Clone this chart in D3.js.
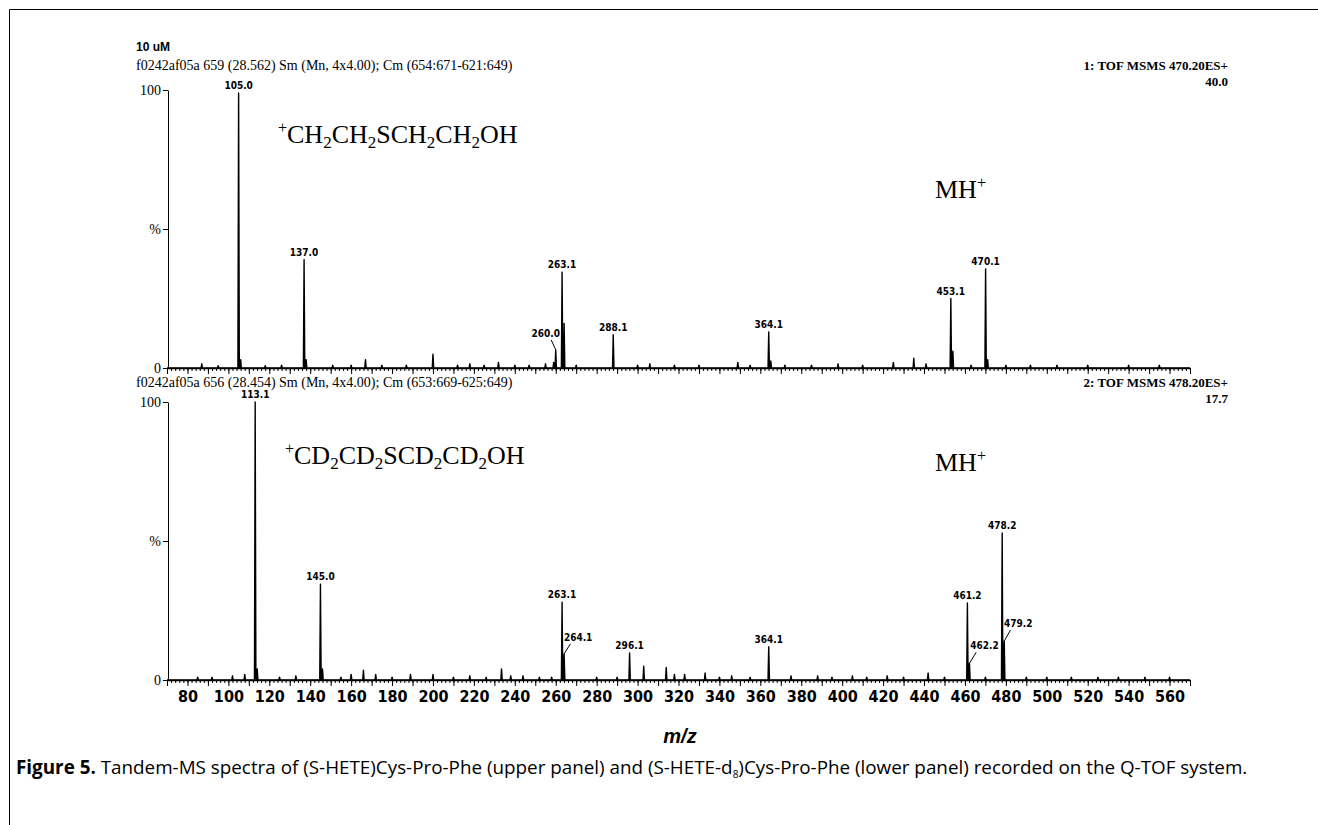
<!DOCTYPE html>
<html>
<head>
<meta charset="utf-8">
<script src="https://cdn.jsdelivr.net/npm/d3@7"></script>
<style>
  body { margin: 0; background: #fff; }
  svg { display: block; }
  .axis text { fill: #000; }
  .axis path, .axis line { stroke: #000; }
</style>
</head>
<body>
<svg id="chart" width="1318" height="825"></svg>
<script>
// m/z range and tick labels
const mzDomain = [70, 570]
const xTickLabels = d3.range(80, 561, 20)

// upper panel: (S-HETE)Cys-Pro-Phe, [m/z, % intensity]
const upperPeaks = [
  [105.0, 98.9], [106.0, 3], [137.0, 39], [138.0, 3], [260.0, 6.5], [263.1, 34.5],
  [264.1, 16], [288.1, 12], [364.1, 13], [365.1, 2.5], [453.1, 25], [454.1, 6],
  [470.1, 35.6], [471.1, 3]
]
const upperNoise = [
  [87, 1.5], [95, 0.8], [118, 0.8], [126, 1], [151, 1], [160, 1], [167, 3], [175, 1],
  [187, 1], [200, 5], [212, 1], [218, 1.5], [225, 1], [232, 2], [240, 1], [247, 1],
  [255, 1.5], [259, 2], [270, 1], [300, 1], [306, 1.5], [318, 1], [330, 1], [349, 2],
  [355, 1], [372, 1], [385, 1], [398, 1.5], [410, 1], [425, 2], [435, 3.5], [441, 1.5],
  [463, 1], [480, 1], [492, 1], [505, 1], [520, 1], [540, 1], [555, 1]
]
const upperLabeled = [105.0, 137.0, 260.0, 263.1, 288.1, 364.1, 453.1, 470.1]

// lower panel: (S-HETE-d8)Cys-Pro-Phe
const lowerPeaks = [
  [113.1, 100], [114.1, 4], [145.0, 34.5], [146.0, 4], [263.1, 28], [264.1, 9.4],
  [296.1, 9.7], [364.1, 12], [461.2, 27.7], [462.2, 6], [478.2, 52.9], [479.2, 14]
]
const lowerNoise = [
  [85, 1], [92, 1], [102, 1.5], [108, 2], [125, 1], [133, 1.5], [155, 1], [160, 2],
  [166, 3.5], [172, 2], [180, 1], [189, 2], [200, 2], [210, 1], [218, 1.5], [226, 1],
  [233.5, 4], [238, 1.5], [244, 1.5], [252, 1], [258, 1], [280, 1], [290, 1], [303, 5],
  [314, 4.5], [318, 2], [323, 2], [333, 2.5], [340, 1], [346, 1.5], [355, 1], [375, 1.5],
  [388, 1.5], [395, 1], [405, 1.5], [412, 1], [422, 1.5], [430, 1], [442, 2.5], [450, 1],
  [470, 1], [490, 1], [500, 1], [512, 1], [525, 1], [535, 1], [548, 1], [560, 1]
]
const lowerLabeled = [113.1, 145.0, 263.1, 264.1, 296.1, 364.1, 461.2, 462.2, 478.2, 479.2]

// labels that sit beside their peak with a leader line
const leaderOffsets = {
  '260.0': [-10, -13],
  '264.1': [14, -13],
  '462.2': [15, -14],
  '479.2': [14, -14]
}

const svg = d3.select('#chart')
const serif = 'Liberation Serif, Times New Roman, serif'
const narrow = 'Liberation Sans Narrow, DejaVu Sans Condensed, sans-serif'

const x = d3.scaleLinear().domain(mzDomain).range([167, 1190])

// figure frame (top and left edge visible)
svg.append('path')
  .attr('d', 'M9.5,825V9.5H1318')
  .attr('fill', 'none')
  .attr('stroke', '#000')
  .attr('stroke-width', 1)

svg.append('text')
  .attr('x', 136).attr('y', 51)
  .attr('font-family', 'Liberation Sans, Arial, sans-serif')
  .attr('font-weight', 'bold')
  .attr('font-size', 12)
  .text('10 uM')

function drawPanel (cfg) {
  const y = d3.scaleLinear().domain([0, 100]).range([cfg.bottom, cfg.top])
  const g = svg.append('g')

  // header lines
  g.append('text')
    .attr('x', 136).attr('y', cfg.headerY)
    .attr('font-family', serif).attr('font-size', 14)
    .text(cfg.header)
  g.append('text')
    .attr('x', 1228).attr('y', cfg.headerY)
    .attr('text-anchor', 'end')
    .attr('font-family', serif).attr('font-weight', 'bold').attr('font-size', 13)
    .text(cfg.scan)
  g.append('text')
    .attr('x', 1228).attr('y', cfg.headerY + 16)
    .attr('text-anchor', 'end')
    .attr('font-family', serif).attr('font-weight', 'bold').attr('font-size', 13)
    .text(cfg.scale)

  // spectrum profile
  const all = cfg.peaks.concat(cfg.noise).sort((a, b) => a[0] - b[0])
  const pts = [[mzDomain[0], 0]]
  all.forEach(([mz, h]) => {
    pts.push([mz - 0.35, 0], [mz, h], [mz + 0.35, 0])
  })
  pts.push([mzDomain[1], 0])
  g.append('path')
    .datum(pts)
    .attr('fill', 'none')
    .attr('stroke', '#000')
    .attr('stroke-width', 1.4)
    .attr('stroke-linejoin', 'round')
    .attr('d', d3.line().x(d => x(d[0])).y(d => y(d[1])))

  // x axis: minor / major ticks
  const minor = g.append('g').attr('class', 'axis')
    .attr('transform', `translate(0,${cfg.bottom})`)
    .call(d3.axisBottom(x).tickValues(d3.range(70, 571, 2)).tickSize(3).tickSizeOuter(0).tickFormat(''))
  minor.select('.domain').attr('stroke-width', 1.6)
  g.append('g').attr('class', 'axis')
    .attr('transform', `translate(0,${cfg.bottom})`)
    .call(d3.axisBottom(x).tickValues(d3.range(70, 571, 10)).tickSize(6).tickSizeOuter(0).tickFormat(''))
    .select('.domain').remove()

  if (cfg.showLabels) {
    g.append('g').attr('class', 'axis')
      .attr('transform', `translate(0,${cfg.bottom})`)
      .call(d3.axisBottom(x).tickValues(xTickLabels).tickSize(0).tickPadding(11))
      .call(s => s.select('.domain').remove())
      .selectAll('text')
      .attr('font-family', narrow).attr('font-weight', 'bold').attr('font-size', 16)
  }

  // y axis
  const yAxis = g.append('g').attr('class', 'axis')
    .attr('transform', `translate(${x(mzDomain[0]) + 1},0)`)
    .call(d3.axisLeft(y).tickValues([0, 50, 100]).tickSize(5).tickSizeOuter(0).tickPadding(2)
      .tickFormat(d => d === 50 ? '%' : d))
  yAxis.selectAll('text').attr('font-family', serif).attr('font-size', 14)

  // peak labels
  const peakMap = new Map(cfg.peaks.map(p => [p[0], p[1]]))
  cfg.labeled.forEach(mz => {
    const key = mz.toFixed(1)
    const px = x(mz)
    const py = y(peakMap.get(mz))
    const off = leaderOffsets[key]
    let tx = px
    let ty = py - 4
    if (off) {
      tx = px + off[0]
      ty = py + off[1]
      g.append('line')
        .attr('x1', px + off[0] * 0.45).attr('y1', ty + 3)
        .attr('x2', px).attr('y2', py)
        .attr('stroke', '#000').attr('stroke-width', 1)
    }
    g.append('text')
      .attr('x', tx).attr('y', ty)
      .attr('text-anchor', 'middle')
      .attr('font-family', narrow).attr('font-weight', 'bold').attr('font-size', 10)
      .text(key)
  })

  // ion annotations
  const formula = g.append('text')
    .attr('x', cfg.formulaPos[0]).attr('y', cfg.formulaPos[1])
    .attr('font-family', serif).attr('font-size', 26)
  cfg.formula.forEach(([t, kind]) => {
    const ts = formula.append('tspan').text(t)
    if (kind === 'sup') ts.attr('font-size', 16).attr('dy', -10)
    else if (kind === 'sub') ts.attr('font-size', 17).attr('dy', 5)
    else if (kind === 'afterSup') ts.attr('dy', 10)
    else if (kind === 'afterSub') ts.attr('dy', -5)
  })
  const mh = g.append('text')
    .attr('x', cfg.mhPos[0]).attr('y', cfg.mhPos[1])
    .attr('font-family', serif).attr('font-size', 26)
  mh.append('tspan').text('MH')
  mh.append('tspan').text('+').attr('font-size', 16).attr('dy', -10)
}

function chain (atoms) {
  // atoms: list of [letters, subscript]
  const parts = [['+', 'sup']]
  let prev = 'sup'
  atoms.forEach(([t, sub]) => {
    parts.push([t, prev === 'sup' ? 'afterSup' : prev === 'sub' ? 'afterSub' : ''])
    prev = ''
    if (sub) {
      parts.push([sub, 'sub'])
      prev = 'sub'
    }
  })
  return parts
}

drawPanel({
  top: 90,
  bottom: 368,
  headerY: 70,
  header: 'f0242af05a  659 (28.562) Sm (Mn, 4x4.00); Cm (654:671-621:649)',
  scan: '1: TOF MSMS 470.20ES+',
  scale: '40.0',
  peaks: upperPeaks,
  noise: upperNoise,
  labeled: upperLabeled,
  showLabels: false,
  formula: chain([['CH', '2'], ['CH', '2'], ['SCH', '2'], ['CH', '2'], ['OH', '']]),
  formulaPos: [278, 143],
  mhPos: [935, 198]
})

drawPanel({
  top: 402,
  bottom: 680,
  headerY: 387,
  header: 'f0242af05a  656 (28.454) Sm (Mn, 4x4.00); Cm (653:669-625:649)',
  scan: '2: TOF MSMS 478.20ES+',
  scale: '17.7',
  peaks: lowerPeaks,
  noise: lowerNoise,
  labeled: lowerLabeled,
  showLabels: true,
  formula: chain([['CD', '2'], ['CD', '2'], ['SCD', '2'], ['CD', '2'], ['OH', '']]),
  formulaPos: [285, 464],
  mhPos: [935, 471]
})

// x axis title
svg.append('text')
  .attr('x', 680).attr('y', 743)
  .attr('text-anchor', 'middle')
  .attr('font-family', 'Liberation Sans, Arial, sans-serif')
  .attr('font-weight', 'bold').attr('font-style', 'italic').attr('font-size', 20)
  .text('m/z')

// caption
const caption = svg.append('text')
  .attr('x', 16).attr('y', 774)
  .attr('font-family', 'Open Sans, sans-serif').attr('font-size', 15)
caption.append('tspan').attr('font-weight', 'bold').text('Figure 5.')
caption.append('tspan').text(' Tandem-MS spectra of (S-HETE)Cys-Pro-Phe (upper panel) and (S-HETE-d')
caption.append('tspan').attr('font-size', 10).attr('dy', 4).text('8')
caption.append('tspan').attr('dy', -4).text(')Cys-Pro-Phe (lower panel) recorded on the Q-TOF system.')
const capW = caption.node().getComputedTextLength()
caption.attr('font-size', 15 * 1234 / capW)
</script>
</body>
</html>
